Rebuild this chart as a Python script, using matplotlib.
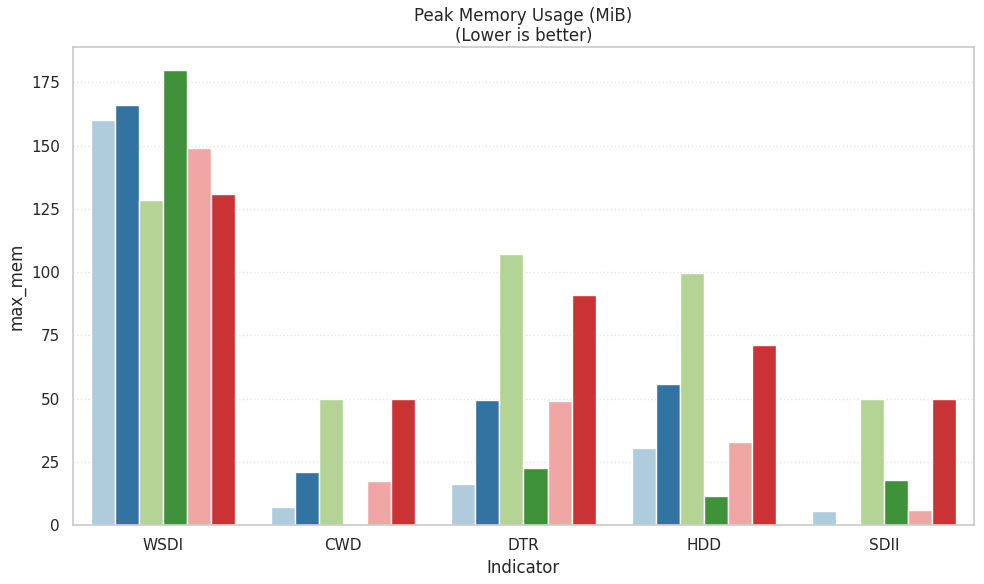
import matplotlib
matplotlib.use("Agg")
import matplotlib.pyplot as plt
import numpy as np
import pandas as pd
import seaborn as sns

indicators = ["WSDI", "CWD", "DTR", "HDD", "SDII"]
methods = ["m1", "m2", "m3", "m4", "m5", "m6"]

# peak memory per method, one list per indicator (nan = no bar)
wsdi = [160.0, 166.0, 128.4, 180.0, 149.0, 130.7]
cwd = [7.1, 21.0, 49.8, np.nan, 17.4, 49.8]
dtr = [16.2, 49.6, 107.0, 22.6, 49.1, 91.0]
hdd = [30.5, 55.9, 99.5, 11.5, 32.9, 71.3]
sdii = [5.5, np.nan, 49.8, 17.8, 5.9, 49.8]

rows = []
for ind, vals in zip(indicators, [wsdi, cwd, dtr, hdd, sdii]):
    for m, v in zip(methods, vals):
        rows.append({"Indicator": ind, "method": m, "max_mem": v})
df = pd.DataFrame(rows)

sns.set_theme(style="whitegrid")
fig, ax = plt.subplots(figsize=(9.84, 5.84), dpi=100)
sns.barplot(
    data=df,
    x="Indicator",
    y="max_mem",
    hue="method",
    hue_order=methods,
    order=indicators,
    palette="Paired",
    legend=False,
    ax=ax,
)
ax.grid(axis="y", linestyle=":", alpha=0.5)
ax.set_title("Peak Memory Usage (MiB)\n(Lower is better)", pad=4)
fig.subplots_adjust(left=0.0742, right=0.9898, top=0.9195, bottom=0.101)
fig.savefig("out.png", dpi=100)
